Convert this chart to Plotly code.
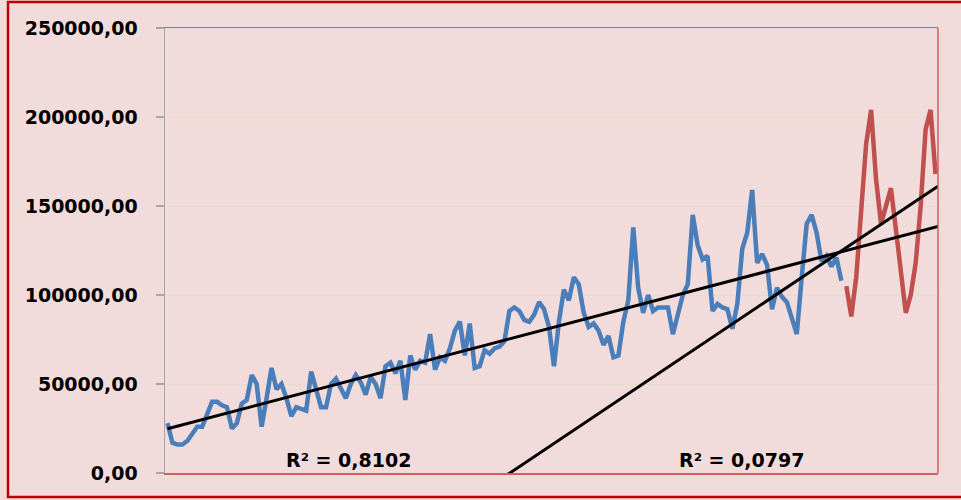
import numpy as np
import plotly.graph_objects as go

# ---------------- data ----------------
n_periods = 156

actual_values = [
    28000, 17000, 16000, 16000, 18000, 22000, 26000, 26000, 33000, 40000,
    40000, 38000, 37000, 25000, 28000, 39000, 41000, 55000, 50000, 26000,
    42000, 59000, 47000, 50000, 42000, 32000, 37000, 36000, 35000, 57000,
    46000, 37000, 37000, 50000, 53000, 48000, 42000, 50000, 55000, 51000,
    44000, 54000, 50000, 42000, 60000, 62000, 56000, 63000, 41000, 66000,
    58000, 63000, 62000, 78000, 58000, 65000, 63000, 70000, 80000, 85000,
    66000, 84000, 59000, 60000, 69000, 67000, 70000, 71000, 74000, 91000,
    93000, 91000, 86000, 85000, 89000, 96000, 92000, 82000, 60000, 85000,
    103000, 97000, 110000, 106000, 90000, 82000, 84000, 80000, 72000, 77000,
    65000, 66000, 85000, 97000, 138000, 104000, 90000, 100000, 91000, 93000,
    93000, 93000, 78000, 90000, 100000, 106000, 145000, 128000, 120000, 122000,
    91000, 95000, 93000, 92000, 81000, 95000, 126000, 135000, 159000, 118000,
    123000, 117000, 92000, 104000, 99000, 96000, 86000, 78000, 110000, 140000,
    145000, 135000, 119000, 122000, 116000, 121000, 108000,
]

forecast_values = [
    105000, 88000, 110000, 145000, 185000, 204000, 165000, 140000, 150000, 160000,
    137000, 113000, 90000, 100000, 118000, 150000, 193000, 204000, 168000,
]

r2_labels = ["R² = 0,8102", "R² = 0,0797"]
y_ticks = [0, 50000, 100000, 150000, 200000, 250000]

# ---------------- derived ----------------
x_actual = np.arange(len(actual_values))
x_forecast = np.arange(len(actual_values), len(actual_values) + len(forecast_values))

fit_actual = np.polyfit(x_actual, actual_values, 1)
fit_forecast = np.polyfit(x_forecast, forecast_values, 1)
trend_x = np.array([0, n_periods - 0.5])

BG = "#F2DCDB"
BLUE = "#4A7EBB"
RED = "#C0504D"
FONT = dict(family="DejaVu Sans", size=19, color="black", weight="bold")

fig = go.Figure()
fig.add_trace(go.Scatter(x=x_actual, y=actual_values, mode="lines",
                         line=dict(color=BLUE, width=4.5), hoverinfo="skip"))
fig.add_trace(go.Scatter(x=x_forecast, y=forecast_values, mode="lines",
                         line=dict(color=RED, width=4.5), hoverinfo="skip"))
fig.add_trace(go.Scatter(x=trend_x, y=np.polyval(fit_actual, trend_x), mode="lines",
                         line=dict(color="black", width=3), hoverinfo="skip"))
fig.add_trace(go.Scatter(x=trend_x, y=np.polyval(fit_forecast, trend_x), mode="lines",
                         line=dict(color="black", width=3), hoverinfo="skip"))

L, R, T, B = 165, 23, 28, 27
W, H = 961, 500
pw, ph = W - L - R, H - T - B

fig.update_layout(
    width=W, height=H,
    margin=dict(l=L, r=R, t=T, b=B),
    paper_bgcolor=BG, plot_bgcolor=BG,
    showlegend=False,
    hovermode=False,
    separators=", ",
    xaxis=dict(range=[-0.5, n_periods - 0.5], showticklabels=False, showgrid=False,
               zeroline=False, ticks="", showline=True, linecolor="#D95B5B",
               linewidth=1.5, mirror=True),
    yaxis=dict(range=[0, 250000], tickvals=y_ticks, tickformat=".2f",
               showgrid=True, gridcolor="#E5DEC8", gridwidth=1, zeroline=False,
               showline=True, linecolor="#A6A6A6", linewidth=1.5,
               ticks="outside", ticklen=8, tickcolor="#A6A6A6", tickwidth=1.5,
               tickfont=FONT, ticklabelstandoff=14),
    shapes=[
        dict(type="line", xref="paper", yref="paper", x0=1, x1=1, y0=0, y1=1,
             line=dict(color="#D95B5B", width=1.5)),
        dict(type="rect", xref="paper", yref="paper",
             x0=(8 - L) / pw, x1=(W + 4 - L) / pw,
             y0=-(497 - (H - B)) / ph, y1=1 + (T - 2) / ph,
             line=dict(color="#C00000", width=2.5), layer="below"),
    ],
    annotations=[
        dict(x=36.6, y=(H - B - 460) / ph, xref="x", yref="paper", text=r2_labels[0],
             showarrow=False, font=FONT, xanchor="center", yanchor="middle"),
        dict(x=115.8, y=(H - B - 460) / ph, xref="x", yref="paper", text=r2_labels[1],
             showarrow=False, font=FONT, xanchor="center", yanchor="middle"),
    ],
)

fig.write_html(
    "out.html",
    config={"displayModeBar": False, "staticPlot": True},
    post_script="document.body.style.margin='0px';document.body.style.overflow='hidden';"
    "document.body.style.background='" + BG + "';",
)
